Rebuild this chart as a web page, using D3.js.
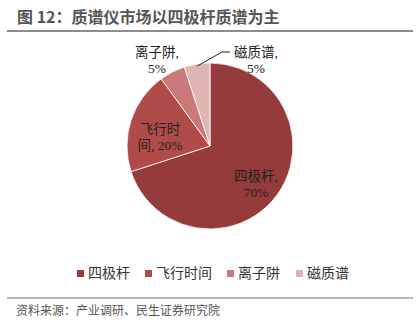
<!DOCTYPE html>
<html>
<head>
<meta charset="utf-8">
<script src="https://cdn.jsdelivr.net/npm/d3@7"></script>
<style>
  html, body { margin: 0; padding: 0; background: #fff; }
  svg { display: block; }
</style>
</head>
<body>
<svg id="chart" width="420" height="333"></svg>
<script>
// Market share of mass spectrometer types
const categories = ["四极杆", "飞行时间", "离子阱", "磁质谱"];
const shares = [70, 20, 5, 5];
const colors = ["#953B3B", "#B14B49", "#C97A78", "#DFB4B3"];

const titleText = "图 12：质谱仪市场以四极杆质谱为主";
const sourceText = "资料来源：产业调研、民生证券研究院";

const svg = d3.select("#chart");
const cjkSans = "'Noto Sans CJK SC', 'Noto Sans', sans-serif";
const labelFont = "'Liberation Serif', 'Noto Sans CJK SC', serif";

// Header
svg.append("text")
  .attr("x", 17).attr("y", 23)
  .attr("font-family", cjkSans)
  .attr("font-size", 16).attr("font-weight", "bold")
  .attr("fill", "#555")
  .text(titleText);
svg.append("line")
  .attr("x1", 7).attr("x2", 413).attr("y1", 31).attr("y2", 31)
  .attr("stroke", "#666").attr("stroke-width", 1.5);

// Pie
const cx = 210, cy = 146, r = 83;
const pie = d3.pie().sort(null).value(d => d.value);
const arcs = pie(categories.map((c, i) => ({ name: c, value: shares[i], color: colors[i] })));
const arc = d3.arc().innerRadius(0).outerRadius(r);

const g = svg.append("g").attr("transform", `translate(${cx},${cy})`);
g.selectAll("path").data(arcs).join("path")
  .attr("d", arc)
  .attr("fill", d => d.data.color)
  .attr("stroke", "#fff").attr("stroke-width", 0.8);

// Data labels (two lines each), positioned relative to the pie centre
const labelPos = [
  { lines: ["四极杆,", "70%"], dx: 46, dy: 30 },
  { lines: ["飞行时", "间, 20%"], dx: -50, dy: -17 },
  { lines: ["离子阱,", "5%"], dx: -53, dy: -94 },
  { lines: ["磁质谱,", "5%"], dx: 46, dy: -94 }
];
arcs.forEach((a, i) => {
  const p = labelPos[i];
  const t = g.append("text")
    .attr("font-family", labelFont)
    .attr("font-size", 13.5)
    .attr("fill", "#222")
    .attr("text-anchor", "middle");
  p.lines.forEach((ln, k) => {
    t.append("tspan")
      .attr("x", p.dx).attr("y", p.dy + k * 16)
      .attr("dy", "0.35em")
      .text(ln);
  });
});

// Leader line for the small magnetic-sector slice
const mag = arcs[3];
const midA = (mag.startAngle + mag.endAngle) / 2;
const sx = Math.sin(midA) * (r - 2), sy = -Math.cos(midA) * (r - 2);
g.append("polyline")
  .attr("points", [[sx, sy], [12, -94], [20, -94]].map(p => p.join(",")).join(" "))
  .attr("fill", "none").attr("stroke", "#222").attr("stroke-width", 1);

// Legend
const legendX = [77, 145, 227, 296];
const legend = svg.append("g");
categories.forEach((c, i) => {
  legend.append("rect")
    .attr("x", legendX[i]).attr("y", 270)
    .attr("width", 7).attr("height", 7)
    .attr("fill", colors[i]);
  legend.append("text")
    .attr("x", legendX[i] + 11).attr("y", 273.5)
    .attr("dy", "0.35em")
    .attr("font-family", labelFont)
    .attr("font-size", 14)
    .attr("fill", "#333")
    .text(c);
});

// Footer
svg.append("line")
  .attr("x1", 7).attr("x2", 413).attr("y1", 298).attr("y2", 298)
  .attr("stroke", "#777").attr("stroke-width", 1);
svg.append("text")
  .attr("x", 16).attr("y", 311)
  .attr("dy", "0.35em")
  .attr("font-family", cjkSans)
  .attr("font-size", 12)
  .attr("fill", "#555")
  .text(sourceText);
</script>
</body>
</html>
